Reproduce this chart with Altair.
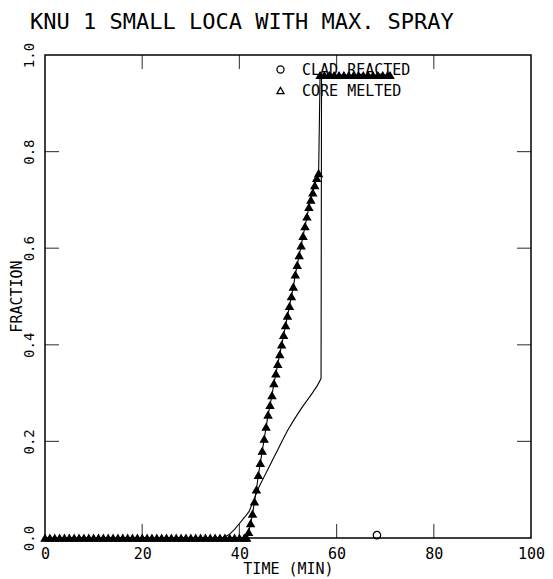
import altair as alt
import pandas as pd

FONT = "DejaVu Sans Mono"

# CORE MELTED (triangles)
core_time = [0.0, 1.0, 2.0, 3.0, 4.0, 5.0, 6.0, 7.0, 8.0, 9.0, 10.0, 11.0, 12.0, 13.0,
             14.0, 15.0, 16.0, 17.0, 18.0, 19.0, 20.0, 21.0, 22.0, 23.0, 24.0, 25.0, 26.0,
             27.0, 28.0, 29.0, 30.0, 31.0, 32.0, 33.0, 34.0, 35.0, 36.0, 37.0, 38.0, 39.0,
             40.0, 41.0, 41.5,
             41.9, 42.3, 42.7, 43.1, 43.5, 43.9, 44.3, 44.7, 45.1, 45.5, 45.9,
             46.3, 46.7, 47.1, 47.5, 47.9, 48.3, 48.7, 49.1, 49.5, 49.9, 50.3, 50.7, 51.1,
             51.5, 51.9, 52.3, 52.7, 53.1, 53.5, 53.9, 54.3, 54.7, 55.1, 55.5, 55.9, 56.3,
             56.6, 57.5, 58.5, 59.5, 60.5, 61.5, 62.5, 63.5, 64.5, 65.5, 66.5, 67.5, 68.5,
             69.5, 70.5, 71.0]
core_frac = [0.0] * 43 + [0.012, 0.03, 0.05, 0.075, 0.10, 0.13, 0.155, 0.18, 0.205, 0.23,
             0.255, 0.275, 0.295, 0.32, 0.34, 0.36, 0.38, 0.40, 0.42, 0.44, 0.46, 0.48,
             0.50, 0.52, 0.545, 0.565, 0.585, 0.605, 0.625, 0.645, 0.665, 0.685, 0.70,
             0.715, 0.73, 0.745, 0.755] + [0.958] * 16

# CLAD REACTED (thin line, circle markers)
clad_time = [0.0, 36.0, 37.0, 38.0, 39.0, 40.0, 41.0, 42.0, 43.0, 44.0, 45.0, 46.0, 47.0,
             48.0, 49.0, 50.0, 51.0, 52.0, 53.0, 54.0, 55.0, 56.0, 56.8, 56.9, 71.0]
clad_frac = [0.0, 0.0, 0.002, 0.008, 0.018, 0.03, 0.042, 0.055, 0.08, 0.105, 0.125, 0.145,
             0.165, 0.185, 0.205, 0.224, 0.241, 0.257, 0.272, 0.286, 0.30, 0.315, 0.33,
             0.958, 0.958]
clad_mark_time = [68.3]
clad_mark_frac = [0.006]

x_ticks = [0, 20, 40, 60, 80, 100]
y_ticks = [0.0, 0.2, 0.4, 0.6, 0.8, 1.0]
inner_x = [20, 40, 60, 80]
inner_y = [0.2, 0.4, 0.6, 0.8]

S1 = "CLAD REACTED"
S2 = "CORE MELTED"

lines = pd.DataFrame({
    "t": clad_time + core_time,
    "f": clad_frac + core_frac,
    "s": [S1] * len(clad_time) + [S2] * len(core_time),
})
points = pd.DataFrame({
    "t": clad_mark_time + core_time,
    "f": clad_mark_frac + core_frac,
    "s": [S1] * len(clad_mark_time) + [S2] * len(core_time),
})
core_pts = pd.DataFrame({"t": core_time, "f": core_frac})
tx = pd.DataFrame({"v": inner_x})
ty = pd.DataFrame({"v": inner_y})

xs = alt.Scale(domain=[0, 100], nice=False, zero=False)
ys = alt.Scale(domain=[0, 1], nice=False, zero=False)

xaxis = alt.Axis(values=x_ticks, format="d", ticks=False, domain=False, grid=False,
                 labelPadding=8, labelFlush=False, title="TIME (MIN)", titlePadding=0,
                 labelFont=FONT, labelFontSize=15, labelColor="black",
                 titleFont=FONT, titleFontSize=15, titleFontWeight="normal", titleColor="black")
yaxis = alt.Axis(values=y_ticks, format=".1f", ticks=False, domain=False, grid=False,
                 labelAngle=270, labelAlign="center", labelBaseline="bottom",
                 labelPadding=9, labelFlush=False, title="FRACTION",
                 titleX=-21, titleY=241, titleAngle=270, titleAlign="center",
                 titleBaseline="bottom",
                 labelFont=FONT, labelFontSize=14, labelColor="black",
                 titleFont=FONT, titleFontSize=15, titleFontWeight="normal", titleColor="black")

line_layer = alt.Chart(lines).mark_line(color="black", strokeWidth=1.1).encode(
    x=alt.X("t:Q", scale=xs, axis=xaxis),
    y=alt.Y("f:Q", scale=ys, axis=yaxis),
    detail="s:N",
    order="t:Q",
)

legend = alt.Legend(orient="none", legendX=228, legendY=7, labelFont=FONT, labelFontSize=15,
                    labelColor="black", symbolSize=50, symbolStrokeColor="black",
                    symbolStrokeWidth=1.3, symbolFillColor="white", labelOffset=14,
                    rowPadding=5, padding=0, title=None)

pt_open = alt.Chart(points).mark_point(size=55, color="black", strokeWidth=1.2, filled=False,
                                       opacity=1).encode(
    x=alt.X("t:Q", scale=xs),
    y=alt.Y("f:Q", scale=ys),
    shape=alt.Shape("s:N", scale=alt.Scale(domain=[S1, S2], range=["circle", "triangle-up"]),
                    legend=legend),
)

pt_fill = alt.Chart(core_pts).mark_point(size=55, color="black", filled=True, opacity=1,
                                         shape="triangle-up").encode(
    x=alt.X("t:Q", scale=xs),
    y=alt.Y("f:Q", scale=ys),
)

bottom_ticks = alt.Chart(tx).mark_tick(orient="vertical", size=14, thickness=1.2,
                                       color="black", yOffset=-7).encode(
    x=alt.X("v:Q", scale=xs), y=alt.datum(0))
top_ticks = alt.Chart(tx).mark_tick(orient="vertical", size=14, thickness=1.2,
                                    color="black", yOffset=7).encode(
    x=alt.X("v:Q", scale=xs), y=alt.datum(1))
left_ticks = alt.Chart(ty).mark_tick(orient="horizontal", size=14, thickness=1.2,
                                     color="black", xOffset=7).encode(
    y=alt.Y("v:Q", scale=ys), x=alt.datum(0))
right_ticks = alt.Chart(ty).mark_tick(orient="horizontal", size=14, thickness=1.2,
                                      color="black", xOffset=-7).encode(
    y=alt.Y("v:Q", scale=ys), x=alt.datum(100))

chart = alt.layer(bottom_ticks, top_ticks, left_ticks, right_ticks, line_layer,
                  pt_open, pt_fill).properties(
    width=486,
    height=483,
    background="white",
    autosize=alt.AutoSizeParams(type="none"),
    padding={"left": 37, "top": 47, "right": 14, "bottom": 40},
    title=alt.TitleParams("KNU 1 SMALL LOCA WITH MAX. SPRAY", anchor="start", frame="group",
                          dx=-15, offset=8, font=FONT, fontSize=22, fontWeight="normal",
                          color="black"),
).configure_view(
    stroke="black", strokeWidth=1.5
)

chart.save("out.html", embed_options={"renderer": "svg", "actions": False})
